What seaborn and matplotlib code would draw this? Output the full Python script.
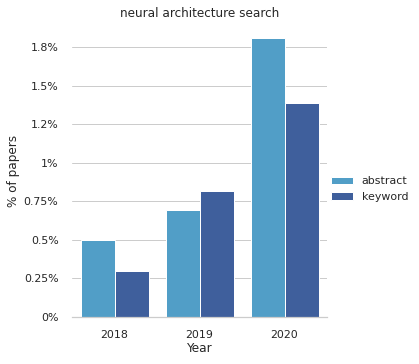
import matplotlib
matplotlib.use("Agg")
import matplotlib.pyplot as plt
import seaborn as sns
import pandas as pd
from matplotlib.ticker import FuncFormatter

years = ["2018", "2019", "2020"]
abstract = [0.50, 0.695, 1.81]
keyword = [0.30, 0.82, 1.39]
series_names = ["abstract", "keyword"]
colors = ["#519ec7", "#3f5f9c"]

df = pd.DataFrame({
    "Year": years * 2,
    "pct": abstract + keyword,
    "type": [series_names[0]] * 3 + [series_names[1]] * 3,
})

sns.set_theme(style="whitegrid", context="notebook")
W, H = 419, 364
fig = plt.figure(figsize=(W / 72, H / 72), dpi=72)
ax = fig.add_axes([72 / W, (H - 317) / H, (327 - 72) / W, (317 - 25) / H])
sns.barplot(data=df, x="Year", y="pct", hue="type", palette=colors, ax=ax,
            edgecolor="white", linewidth=1, saturation=1)
ax.set_ylim(0, 1.896)
ax.set_yticks([0, 0.25, 0.5, 0.75, 1.0, 1.25, 1.5, 1.75])
ax.yaxis.set_major_formatter(FuncFormatter(lambda v, p: "{:.2g}%".format(v)))
ax.tick_params(axis="both", pad=7.5)
ax.set_ylabel("% of papers", labelpad=4)
ax.set_xlabel("Year", labelpad=2)
ax.set_title("neural architecture search", pad=8)
sns.despine(ax=ax, left=True)
ax.spines["bottom"].set_color("#cccccc")
ax.legend_.remove()
handles, labels = ax.get_legend_handles_labels()
fig.legend(handles, labels, loc="center left", bbox_to_anchor=(321 / W, 1 - 189 / H),
           frameon=False, fontsize=11)
fig.savefig("out.png", dpi=72)
